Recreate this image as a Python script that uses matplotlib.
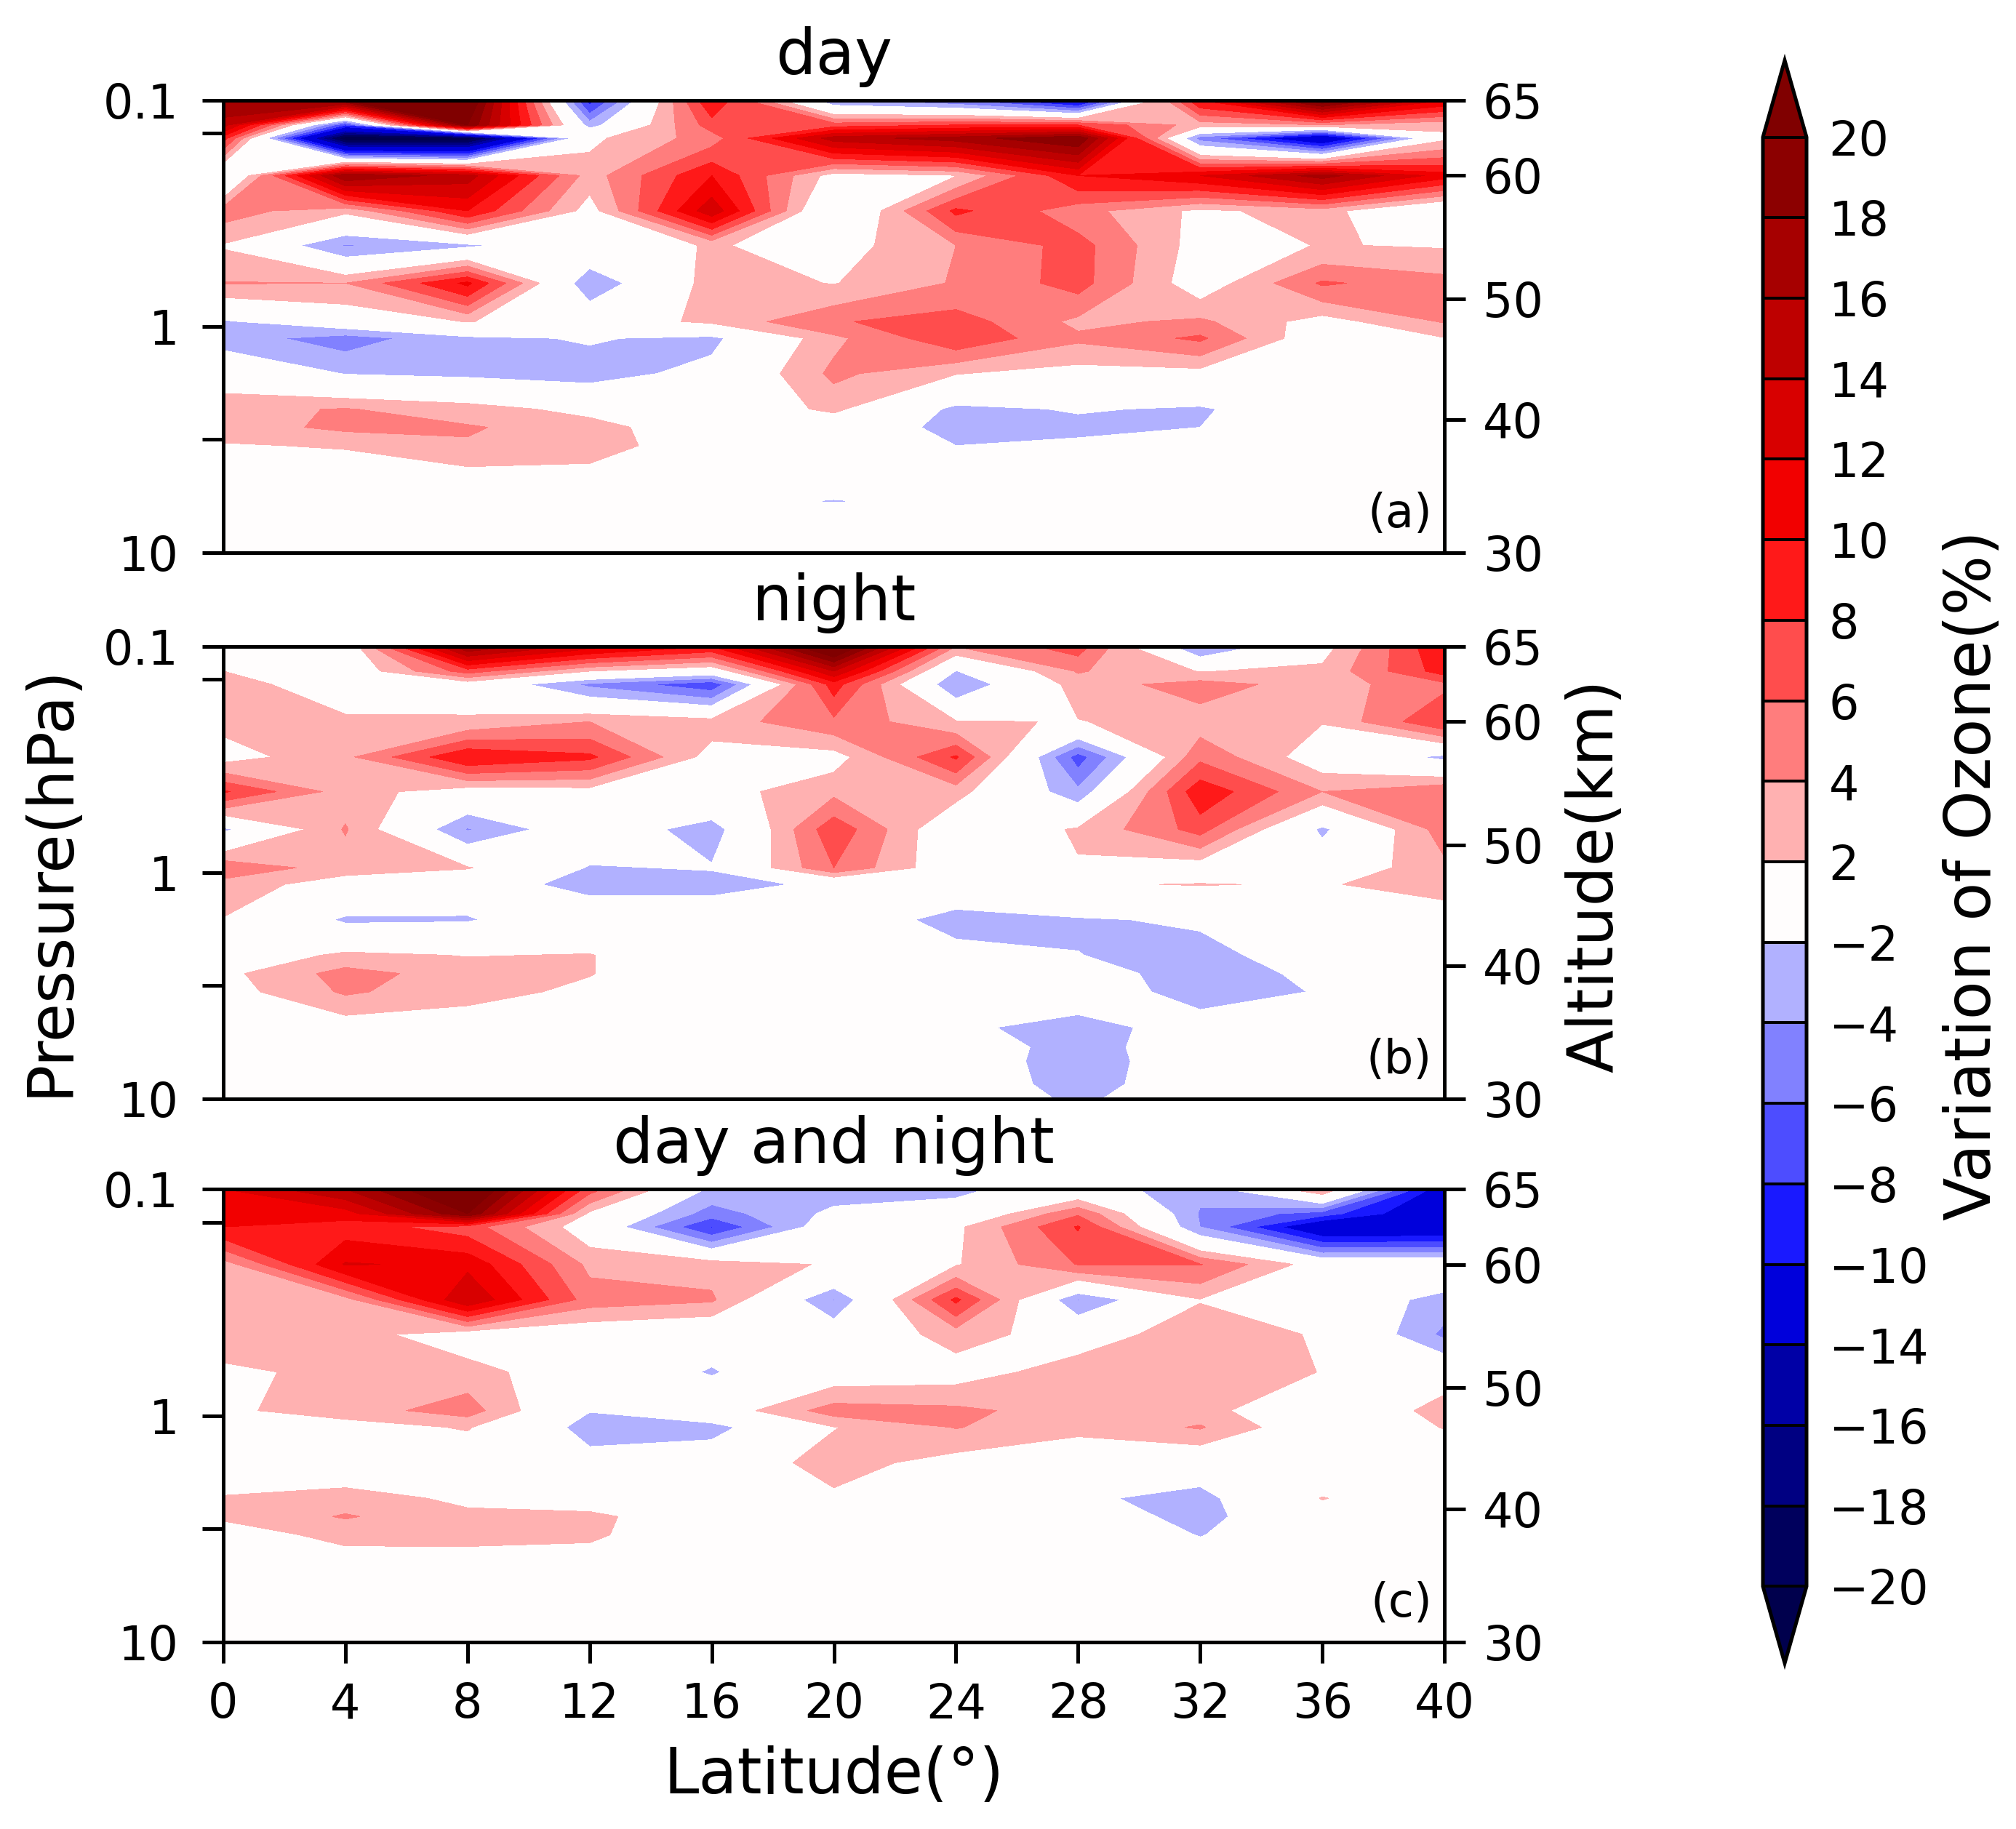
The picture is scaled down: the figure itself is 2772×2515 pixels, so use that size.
import numpy as np
import matplotlib
matplotlib.use("Agg")
import matplotlib.pyplot as plt

W, H = 2772, 2515
latitudes = [0, 4, 8, 12, 16, 20, 24, 28, 32, 36, 40]
pressure = [0.1, 0.1285, 0.147, 0.215, 0.308, 0.438, 0.643, 0.951, 1.127, 1.614, 2.316,
            2.79, 3.363, 4.83, 5.92, 6.81, 8.61, 10.0]
levels = [-20, -18, -16, -14, -10, -8, -6, -4, -2, 2, 4, 6, 8, 10, 12, 14, 16, 18, 20]
left_ticks = [0.1, 0.14, 1, 3.16, 10]
left_labels = ["0.1", "", "1", "", "10"]
alt_tick_pressure = [0.1, 0.215, 0.755, 2.58, 10]
alt_labels = ["65", "60", "50", "40", "30"]
lat_ticks = latitudes
titles = ["day", "night", "day and night"]
tags = ["(a)", "(b)", "(c)"]

day = [
 [18, 20, 23, -9, 10, -4, -6, -12, 10, 22, 12],
 [15, -8, 20, -3, 7, 7, 8, 8, 3, 4, 2.5],
 [9, -22, -22, 1.5, 5, 15, 17, 20, -5, -14, 1.5],
 [-2.3, 18, 15, 3, 10, 1, 1.9, 10, 12, 17, 11],
 [5, 2.5, 10, 1, 13.5, -2.1, 8.5, 4.8, 1.5, 3, -2.1],
 [1.8, -4.2, -2.5, .5, 2.2, 1, 4, 6.8, 1, 2.1, 1.8],
 [4.1, 4, 10.5, -3.9, 3, 1.9, 4.2, 6.8, .5, 6.3, 4.8],
 [-2.3, 0, 2.1, .5, 2.5, 5.8, 7, 3.5, 4.4, 1, 4.2],
 [-3, -5, -2.5, -1.8, -2.6, 3.5, 7.6, 4.4, 6.4, 0, 1.9],
 [.3, -2.1, -2.5, -3, -1.2, 4.5, 2.1, 1, 1.1, 0, 0],
 [3.6, 4.1, 3, 1.2, 0, 2.5, -2.6, -1.8, -2.3, 0, 0],
 [3, 4.5, 4.2, 3, 0, 0, -2.8, -2.6, -2, 0, 0],
 [1.8, 2.2, 3.8, 3, .5, 0, -2, -1.5, 0, 0, 0],
 [.5, 0, .5, .8, 0, 0, 0, 0, 0, 0, 0],
 [.5, 0, .5, 0, -1, -2.2, -1, 0, 0, 0, 0],
 [.5, 0, 0, 0, 0, 0, 0, 0, 0, 0, 0],
 [0, 0, 0, 0, 0, 0, 0, 0, 0, 0, 0],
 [0, 0, 0, 0, 0, 0, 0, 0, 0, 0, 0],
]
night = [
 [0, 0, 18, 13, 10, 24, 4, 7, -4.5, 1, 10],
 [2, 0, 7, 2, 0, 14, -2.1, 4.2, 1.9, 2.5, 9],
 [3.3, 0, .5, -4.5, -7.5, 9, -4.1, 3, 4.9, 3, 5.5],
 [2.6, 2.6, 2.4, 4, 3, 5.5, 2.2, 1.9, 3, 2.1, 8],
 [1, 3.5, 10, 8.5, 1, 1, 8.3, -7, 5.5, .5, -2.6],
 [8.3, 3, .7, 1, 1, 3.5, 2.8, -3.5, 9.5, 4, 6],
 [-2.5, 4.2, -4.2, 0, -3.2, 7.5, -.5, 2.3, 6.8, -2.5, 5],
 [5.8, 2.8, 2.2, -2.2, -1.8, 6, 0, 1.8, .5, 0, 3.5],
 [3, 1, -.75, -2.8, -3, -1.4, 0, 1.8, 2.1, 1.8, 3],
 [1.9, -2.4, -2.2, 0, .5, 0, -3, -2.3, -1.6, 0, .5],
 [0, 2.5, 1.9, 2.1, 0, 0, -1, -1.95, -3, -.2, 0],
 [1.4, 4.8, 3, 2.1, 0, 0, 0, -1, -3, -1.5, 0],
 [1, 4.3, 2.8, 1.5, 0, 0, 0, -.5, -3, -1.85, 0],
 [0, .6, .5, 0, 0, 0, -1.5, -3, -.8, 0, 0],
 [0, 0, 0, 0, 0, 0, 0, -3.3, 0, 0, 0],
 [0, 0, 0, 0, 0, 0, 0, -3.5, 0, 0, 0],
 [0, 0, 0, 0, 0, 0, -.3, -3, -.4, 0, 0],
 [0, 0, 0, 0, 0, 0, 0, -2.5, 0, 0, 0],
]
both = [
 [12, 16, 24, 7, -2.5, -3, -2.5, -.5, -3.5, 4.2, -12],
 [11, 11, 20, 1.5, -5, -1.5, -1, 5.7, -4.2, -7, -13],
 [10, 9, 7, .5, -8.2, 0, 1.5, 8.2, -4, -13, -13],
 [3, 12.2, 11.5, 3.5, 3.3, 1.7, 1.8, 6.1, 6.1, .7, 1],
 [3, 3.2, 14, 5, 4.3, -4.1, 8.5, -4.1, 1.9, .5, -3],
 [3, 3, .5, 0, -1, 0, 2.8, 1, 3, 1.8, -4.5],
 [1.6, 2.5, 3, 0, -2.2, .5, 1, 3, 3, 1.95, .8],
 [1.6, 3, 5, -1.9, .3, 5, 4.5, 3, 3, -1, 3],
 [.5, 1, 2.2, -3, -2.9, 1.9, 4.1, 2.6, 4.2, -.2, 2.1],
 [0, 0, 0, -1, 0, 3, 1, 0, -.6, 0, 0],
 [2.2, 3, 1.5, .5, 0, 1.5, 0, -1.6, -2.8, 2.1, 0],
 [2.3, 4.2, 2.5, 2.6, 0, 0, 0, -.4, -2.9, 1, 0],
 [1, 2.6, 2.6, 2.4, 0, 0, 0, 0, -2.1, 0, 0],
 [0, .4, .5, .3, 0, 0, 0, 0, 0, 0, 0],
 [0, 0, 0, 0, 0, 0, 0, 0, 0, 0, 0],
 [0, 0, 0, 0, 0, 0, 0, 0, 0, 0, 0],
 [0, 0, 0, 0, 0, 0, 0, 0, 0, 0, 0],
 [0, 0, 0, 0, 0, 0, 0, 0, 0, 0, 0],
]
panels = [day, night, both]

TICK_FS, LABEL_FS, TITLE_FS, TAG_FS = 47, 62.5, 63, 46
LW = 3.6


def box(x0, y0, x1, y1):
    """Pixel box (y from the top) to a figure rectangle."""
    return [x0 / W, 1 - y1 / H, (x1 - x0) / W, (y1 - y0) / H]


fig = plt.figure(figsize=(W / 100, H / 100), dpi=100)
plt.rcParams["axes.linewidth"] = LW
panel_y = [(138, 760), (889, 1511), (1635, 2258)]
cf = None
for i, (vals, (y0, y1)) in enumerate(zip(panels, panel_y)):
    ax = fig.add_axes(box(307, y0, 1986, y1))
    cf = ax.contourf(latitudes, pressure, np.array(vals, float), levels=levels,
                     cmap="seismic", vmin=-20, vmax=20, extend="both")
    ax.set_yscale("log")
    ax.set_ylim(10, 0.1)
    ax.set_xlim(0, 40)
    ax.set_yticks(left_ticks)
    ax.set_yticklabels(left_labels)
    ax.minorticks_off()
    ax.tick_params(axis="y", length=21, width=LW, labelsize=TICK_FS, pad=23)
    if i == 2:
        ax.set_xticks(lat_ticks)
        ax.tick_params(axis="x", length=21, width=LW, labelsize=TICK_FS, pad=18)
        ax.set_xlabel("Latitude(°)", fontsize=LABEL_FS, labelpad=17)
    else:
        ax.set_xticks([])
    ax.set_title(titles[i], fontsize=TITLE_FS, pad=26)
    ax.text(0.99, 0.035, tags[i], transform=ax.transAxes, ha="right", va="bottom",
            fontsize=TAG_FS)
    for s in ax.spines.values():
        s.set_linewidth(LW)
    axr = ax.twinx()
    axr.set_yscale("log")
    axr.set_ylim(10, 0.1)
    axr.set_yticks(alt_tick_pressure)
    axr.set_yticklabels(alt_labels)
    axr.minorticks_off()
    axr.tick_params(axis="y", length=21, width=LW, labelsize=TICK_FS, pad=17)
    for s in axr.spines.values():
        s.set_linewidth(LW)

fig.text(70 / W, 1 - 1211 / H, "Pressure(hPa)", rotation=90, ha="center", va="center",
         fontsize=LABEL_FS)
fig.text(2193 / W, 1 - 1204 / H, "Altitude(km)", rotation=90, ha="center", va="center",
         fontsize=LABEL_FS)
fig.text(2713 / W, 1 - 1204 / H, "Variation of Ozone(%)", rotation=90, ha="center",
         va="center", fontsize=LABEL_FS)

cax = fig.add_axes(box(2424, 83, 2484, 2287))
cb = fig.colorbar(cf, cax=cax, ticks=levels, spacing="uniform", drawedges=True,
                  extend="both", extendfrac=0.053)
cb.ax.tick_params(length=0, labelsize=TICK_FS, pad=22)
cb.outline.set_linewidth(LW)
cb.dividers.set_linewidth(LW * 0.8)
cb.dividers.set_color("black")

fig.savefig("out.png", dpi=100)
